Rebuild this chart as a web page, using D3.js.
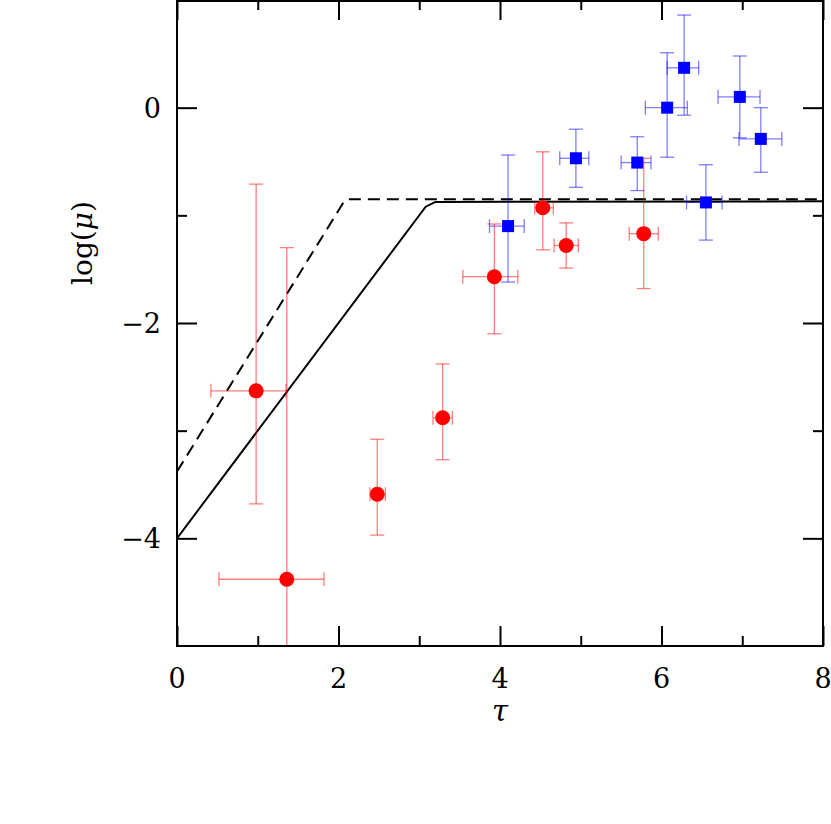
<!DOCTYPE html>
<html><head><meta charset="utf-8">
<script src="https://cdn.jsdelivr.net/npm/d3@7"></script>
<style>body{margin:0;background:#fff}svg{display:block}</style>
</head><body>
<script>
// red circles: tau, log(mu), tau low, tau high, logmu low, logmu high
const redTau   = [0.98, 1.36, 2.48, 3.29, 3.93, 4.53, 4.82, 5.78];
const redMu    = [-2.63, -4.38, -3.59, -2.88, -1.57, -0.93, -1.28, -1.17];
const redTauLo = [0.42, 0.52, 2.39, 3.17, 3.54, 4.43, 4.67, 5.60];
const redTauHi = [1.35, 1.82, 2.58, 3.41, 4.22, 4.66, 4.97, 5.96];
const redMuLo  = [-3.68, -5.2, -3.97, -3.27, -2.10, -1.32, -1.49, -1.68];
const redMuHi  = [-0.71, -1.30, -3.08, -2.38, -1.08, -0.41, -1.07, -0.47];
// blue squares
const blueTau   = [4.10, 4.94, 5.70, 6.07, 6.28, 6.55, 6.97, 7.23];
const blueMu    = [-1.10, -0.47, -0.51, 0.00, 0.37, -0.88, 0.10, -0.29];
const blueTauLo = [3.87, 4.74, 5.50, 5.80, 6.07, 6.31, 6.70, 6.96];
const blueTauHi = [4.30, 5.10, 5.87, 6.32, 6.46, 6.75, 7.22, 7.49];
const blueMuLo  = [-1.62, -0.74, -0.77, -0.46, -0.07, -1.23, -0.28, -0.60];
const blueMuHi  = [-0.44, -0.20, -0.27, 0.51, 0.86, -0.53, 0.48, 0.00];
// model curves
const solidTau  = [0, 3.08, 3.2, 8];
const solidMu   = [-4.0, -0.92, -0.875, -0.87];
const dashTau   = [0, 2.07, 2.12, 8];
const dashMu    = [-3.38, -0.87, -0.85, -0.85];
const xTicks = [0, 2, 4, 6, 8];
const xMinor = [1, 3, 5, 7];
const yTicks = [0, -2, -4];
const yMinor = [-1, -3];

const W = 831, H = 824;
const L = 177, R = 823, T = 0, B = 646;
const svg = d3.select("body").append("svg").attr("width", W).attr("height", H);
const x = d3.scaleLinear().domain([0, 8]).range([L, R]);
const y = d3.scaleLinear().domain([-5, 1]).range([B, T]);
const font = "'DejaVu Serif', serif";

const clip = svg.append("clipPath").attr("id", "c").append("rect")
  .attr("x", L).attr("y", T).attr("width", R - L).attr("height", B - T);
const g = svg.append("g").attr("clip-path", "url(#c)");

// lines
const line = d3.line().x(d => x(d[0])).y(d => y(d[1]));
g.append("path").datum(dashTau.map((t, i) => [t, dashMu[i]]))
  .attr("d", line).attr("fill", "none").attr("stroke", "#000").attr("stroke-width", 2)
  .attr("stroke-dasharray", "12,7");
g.append("path").datum(solidTau.map((t, i) => [t, solidMu[i]]))
  .attr("d", line).attr("fill", "none").attr("stroke", "#000").attr("stroke-width", 2);

function errBars(tau, mu, tlo, thi, mlo, mhi, col) {
  const eg = g.append("g").attr("stroke", col).attr("stroke-width", 1.3).attr("fill", "none");
  const cap = 7;
  tau.forEach((t, i) => {
    eg.append("line").attr("x1", x(t)).attr("x2", x(t)).attr("y1", y(mlo[i])).attr("y2", y(mhi[i]));
    eg.append("line").attr("x1", x(t) - cap).attr("x2", x(t) + cap).attr("y1", y(mlo[i])).attr("y2", y(mlo[i]));
    eg.append("line").attr("x1", x(t) - cap).attr("x2", x(t) + cap).attr("y1", y(mhi[i])).attr("y2", y(mhi[i]));
    eg.append("line").attr("x1", x(tlo[i])).attr("x2", x(thi[i])).attr("y1", y(mu[i])).attr("y2", y(mu[i]));
    eg.append("line").attr("x1", x(tlo[i])).attr("x2", x(tlo[i])).attr("y1", y(mu[i]) - cap).attr("y2", y(mu[i]) + cap);
    eg.append("line").attr("x1", x(thi[i])).attr("x2", x(thi[i])).attr("y1", y(mu[i]) - cap).attr("y2", y(mu[i]) + cap);
  });
}
errBars(redTau, redMu, redTauLo, redTauHi, redMuLo, redMuHi, "rgba(255,0,0,0.5)");
errBars(blueTau, blueMu, blueTauLo, blueTauHi, blueMuLo, blueMuHi, "rgba(0,0,255,0.5)");

g.selectAll("circle.r").data(redTau).enter().append("circle")
  .attr("cx", d => x(d)).attr("cy", (d, i) => y(redMu[i])).attr("r", 7.5).attr("fill", "#ff0000");
const s = 12;
g.selectAll("rect.b").data(blueTau).enter().append("rect")
  .attr("x", d => x(d) - s / 2).attr("y", (d, i) => y(blueMu[i]) - s / 2)
  .attr("width", s).attr("height", s).attr("fill", "#0000ff");

// frame
svg.append("rect").attr("x", L).attr("y", T + 1).attr("width", R - L).attr("height", B - T - 1)
  .attr("fill", "none").attr("stroke", "#000").attr("stroke-width", 2);

// axes ticks (inward) via d3 axes
function tickAxis(axisFn, scale, vals, size, tr) {
  const a = axisFn(scale).tickValues(vals).tickSize(size).tickFormat("");
  const ag = svg.append("g").attr("transform", tr).call(a);
  ag.select(".domain").remove();
  ag.selectAll("line").attr("stroke", "#000").attr("stroke-width", 2);
  return ag;
}
tickAxis(d3.axisBottom, x, xTicks, -20, `translate(0,${B})`);
tickAxis(d3.axisBottom, x, xMinor, -10, `translate(0,${B})`);
tickAxis(d3.axisTop, x, xTicks, -20, `translate(0,${T})`);
tickAxis(d3.axisTop, x, xMinor, -10, `translate(0,${T})`);
tickAxis(d3.axisLeft, y, yTicks, -20, `translate(${L},0)`);
tickAxis(d3.axisLeft, y, yMinor, -10, `translate(${L},0)`);
tickAxis(d3.axisRight, y, yTicks, -20, `translate(${R},0)`);
tickAxis(d3.axisRight, y, yMinor, -10, `translate(${R},0)`);

// labels
const fmt = v => v < 0 ? "\u2212" + Math.abs(v) : String(v);
svg.append("g").selectAll("text").data(xTicks).enter().append("text")
  .attr("x", d => x(d)).attr("y", 688).attr("text-anchor", "middle")
  .attr("font-family", font).attr("font-size", 27).text(fmt);
svg.append("g").selectAll("text").data(yTicks).enter().append("text")
  .attr("x", 161).attr("y", d => y(d) + 10).attr("text-anchor", "end")
  .attr("font-family", font).attr("font-size", 27).text(fmt);
svg.append("text").attr("x", x(4)).attr("y", 721).attr("text-anchor", "middle")
  .attr("font-family", font).attr("font-style", "italic").attr("font-size", 29).text("\u03c4");
svg.append("text").attr("transform", "translate(92,243) rotate(-90)").attr("text-anchor", "middle")
  .attr("font-family", font).attr("font-size", 28)
  .html("log(<tspan font-style='italic'>\u03bc</tspan>)");
</script>
</body></html>
